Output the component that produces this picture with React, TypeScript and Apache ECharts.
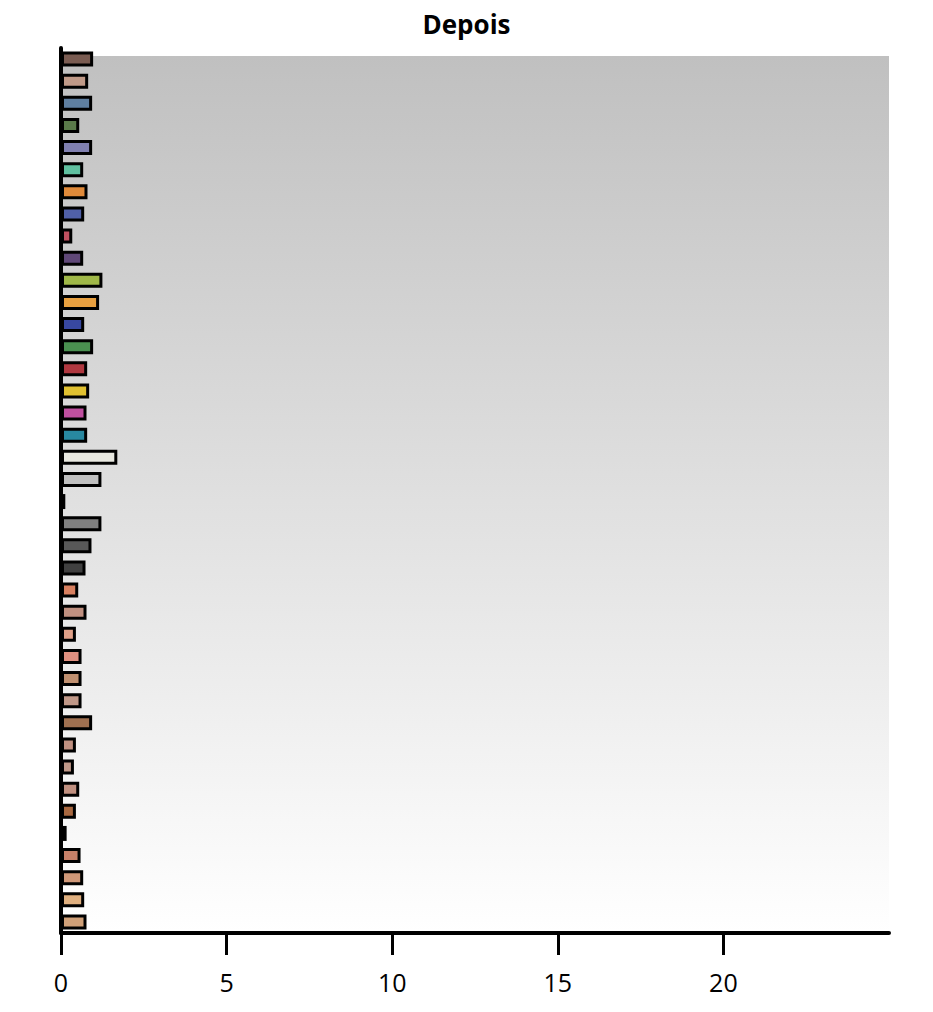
import React, { useEffect, useRef } from "react";
import * as echarts from "echarts";

const categories: string[] = Array.from({ length: 40 }, (_, i) => `C${i + 1}`);

const values: number[] = [
  0.97, 0.82, 0.94, 0.55, 0.94, 0.67, 0.8, 0.7, 0.34, 0.67,
  1.25, 1.15, 0.7, 0.97, 0.79, 0.85, 0.77, 0.79, 1.7, 1.22,
  0.13, 1.22, 0.92, 0.74, 0.52, 0.77, 0.45, 0.62, 0.62, 0.62,
  0.94, 0.45, 0.39, 0.55, 0.45, 0.17, 0.59, 0.67, 0.7, 0.77,
];

const colors: string[] = [
  "#7a5c52", "#c09a88", "#5f7fa0", "#5a7a4a", "#8080b0", "#60c0a0", "#e08a3a", "#5060a8", "#c05060", "#604878",
  "#a0b848", "#e8a040", "#3848a0", "#4a9050", "#b03840", "#e0c030", "#c050a0", "#2888a0", "#e8e8e0", "#c0c0c0",
  "#303030", "#808080", "#585858", "#404040", "#d88060", "#c09080", "#e0a088", "#e09080", "#c09070", "#c09888",
  "#a07050", "#c09080", "#c09888", "#c09080", "#a86840", "#804848", "#c88068", "#d09878", "#e0b080", "#d0a078",
];

const xTicks: number[] = [0, 5, 10, 15, 20];

export default function App() {
  const ref = useRef<HTMLDivElement>(null);
  useEffect(() => {
    if (!ref.current) return;
    const chart = echarts.init(ref.current, undefined, { renderer: "svg" });
    chart.setOption({
      animation: false,
      title: {
        text: "Depois",
        left: "center",
        top: 6,
        textStyle: { fontFamily: "Open Sans", fontWeight: "bold", fontSize: 26, color: "#000" },
      },
      graphic: [
        {
          type: "rect",
          z: -10,
          shape: { x: 61, y: 56, width: 828, height: 877 },
          style: {
            fill: new echarts.graphic.LinearGradient(0, 0, 0, 1, [
              { offset: 0, color: "#c0c0c0" },
              { offset: 1, color: "#ffffff" },
            ]),
          },
        },
      ],
      grid: { left: 61, right: 44, top: 48, bottom: 79 },
      xAxis: {
        type: "value",
        min: 0,
        max: 25,
        interval: 5,
        axisLine: { show: true, lineStyle: { color: "#000", width: 4 } },
        axisTick: { show: true, length: 22, lineStyle: { color: "#000", width: 3 } },
        splitLine: { show: false },
        axisLabel: {
          showMaxLabel: false,
          color: "#000",
          fontSize: 25,
          fontFamily: "Open Sans",
          margin: 36,
          formatter: (v: number) => (xTicks.includes(v) ? String(v) : ""),
        },
      },
      yAxis: {
        type: "category",
        data: categories,
        inverse: true,
        axisLine: { show: true, lineStyle: { color: "#000", width: 4 } },
        axisTick: { show: false },
        axisLabel: { show: false },
      },
      series: [
        {
          type: "bar",
          data: values.map((v, i) => ({ value: v, itemStyle: { color: colors[i] } })),
          barWidth: 15,
          itemStyle: { borderColor: "#000", borderWidth: 3 },
        },
      ],
    });
    return () => chart.dispose();
  }, []);
  return <div ref={ref} style={{ width: 933, height: 1012, margin: -8 }} />;
}
